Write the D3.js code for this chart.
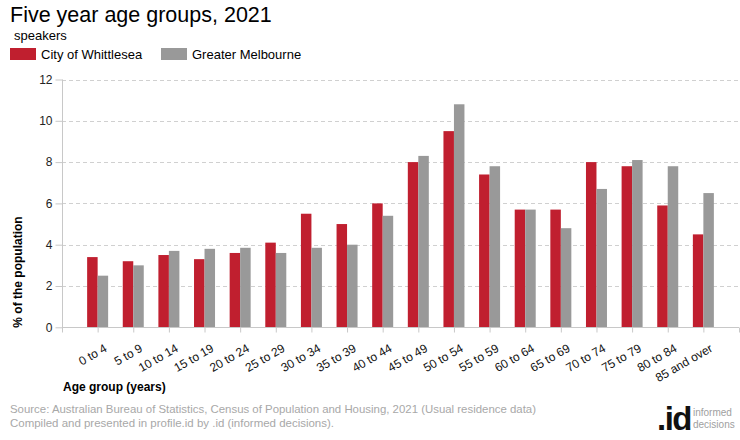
<!DOCTYPE html>
<html>
<head>
<meta charset="utf-8">
<script src="https://cdn.jsdelivr.net/npm/d3@7"></script>
<style>
  html, body { margin: 0; padding: 0; background: #fff; }
  svg { display: block; font-family: "Liberation Sans", Arial, sans-serif; }
</style>
</head>
<body>
<svg id="chart" width="740" height="440"></svg>
<script>
const categories = ["0 to 4","5 to 9","10 to 14","15 to 19","20 to 24","25 to 29","30 to 34","35 to 39","40 to 44","45 to 49","50 to 54","55 to 59","60 to 64","65 to 69","70 to 74","75 to 79","80 to 84","85 and over"];
const whittlesea = [3.4,3.2,3.5,3.3,3.6,4.1,5.5,5.0,6.0,8.0,9.5,7.4,5.7,5.7,8.0,7.8,5.9,4.5];
const melbourne  = [2.5,3.0,3.7,3.8,3.85,3.6,3.85,4.0,5.4,8.3,10.8,7.8,5.7,4.8,6.7,8.1,7.8,6.5];
const yTicks = [0,2,4,6,8,10,12];
const seriesNames = ["City of Whittlesea","Greater Melbourne"];
const colors = ["#c01f2f","#999999"];

const svg = d3.select("#chart");
const pL = 62, pR = 739, pT = 79.5, pB = 327.3;

const x = d3.scalePoint().domain(categories).range([pL, pR]).padding(1);
const y = d3.scaleLinear().domain([0, 12]).range([pB, pT]);

// Title
svg.append("text").attr("x", 10).attr("y", 22).attr("font-size", 21.5).attr("fill", "#000")
  .text("Five year age groups, 2021");
svg.append("text").attr("x", 14).attr("y", 40).attr("font-size", 13).attr("fill", "#000")
  .text("speakers");

// Legend
const legX = [10, 161];
seriesNames.forEach((n, i) => {
  svg.append("rect").attr("x", legX[i]).attr("y", 48).attr("width", 26).attr("height", 12).attr("fill", colors[i]);
  svg.append("text").attr("x", legX[i] + 31).attr("y", 59).attr("font-size", 13).attr("fill", "#000").text(n);
});

// Grid lines
svg.append("g").selectAll("line").data(yTicks.filter(d => d > 0)).join("line")
  .attr("x1", pL).attr("x2", pR)
  .attr("y1", d => Math.round(y(d)) + 0.5).attr("y2", d => Math.round(y(d)) + 0.5)
  .attr("stroke", "#d0d0d0").attr("stroke-dasharray", "4,3");

// Y axis
const yAxis = svg.append("g").attr("transform", `translate(${pL + 0.5},0)`)
  .call(d3.axisLeft(y).tickValues(yTicks).tickSize(7).tickPadding(3).tickFormat(d3.format("d")));
yAxis.select(".domain").attr("stroke", "#c8c8c8").attr("d", `M0,${pT}V${pB}`);
yAxis.selectAll(".tick line").attr("stroke", "#c8c8c8");
yAxis.selectAll(".tick text").attr("font-size", 12).attr("fill", "#222").attr("font-family", "Liberation Sans, Arial, sans-serif");

// Bars
const bw = 10.5;
const g = svg.append("g");
g.selectAll("rect.w").data(categories).join("rect").attr("class", "w")
  .attr("x", d => x(d) - bw).attr("width", bw)
  .attr("y", (d, i) => y(whittlesea[i])).attr("height", (d, i) => y(0) - y(whittlesea[i]))
  .attr("fill", colors[0]);
g.selectAll("rect.m").data(categories).join("rect").attr("class", "m")
  .attr("x", d => x(d)).attr("width", bw)
  .attr("y", (d, i) => y(melbourne[i])).attr("height", (d, i) => y(0) - y(melbourne[i]))
  .attr("fill", colors[1]);

// X axis
const xAxis = svg.append("g").attr("transform", `translate(0,${Math.round(pB) + 0.5})`)
  .call(d3.axisBottom(x).tickSize(5).tickPadding(6));
xAxis.select(".domain").attr("stroke", "#c8c8c8").attr("d", `M${pL},0H${pR}`);
xAxis.selectAll(".tick line").attr("stroke", "#c8c8c8");
xAxis.selectAll(".tick text")
  .attr("font-size", 12).attr("fill", "#111").attr("font-family", "Liberation Sans, Arial, sans-serif")
  .attr("text-anchor", "end").attr("dy", "0.35em")
  .attr("transform", "translate(2,10) rotate(-30)");
// end ticks
[pL, pR].forEach(px => {
  xAxis.append("line").attr("x1", px + 0.5).attr("x2", px + 0.5).attr("y1", 0).attr("y2", 5).attr("stroke", "#c8c8c8");
});

// Axis titles
svg.append("text").attr("transform", "translate(22,272) rotate(-90)").attr("text-anchor", "middle")
  .attr("font-size", 12).attr("font-weight", "bold").attr("fill", "#000").text("% of the population");
svg.append("text").attr("x", 63).attr("y", 391).attr("font-size", 12).attr("font-weight", "bold").attr("fill", "#000")
  .text("Age group (years)");

// Source
svg.append("text").attr("x", 10).attr("y", 413).attr("font-size", 11.5).attr("fill", "#a8a8a8")
  .attr("textLength", 526).attr("lengthAdjust", "spacingAndGlyphs")
  .text("Source: Australian Bureau of Statistics, Census of Population and Housing, 2021 (Usual residence data)");
svg.append("text").attr("x", 10).attr("y", 427).attr("font-size", 11.5).attr("fill", "#a8a8a8")
  .attr("textLength", 324).attr("lengthAdjust", "spacingAndGlyphs")
  .text("Compiled and presented in profile.id by .id (informed decisions).");

// Logo
svg.append("text").attr("x", 657).attr("y", 430).attr("font-size", 33).attr("font-weight", "bold")
  .attr("fill", "#111").attr("letter-spacing", "-1.5").text(".id");
svg.append("text").attr("x", 693).attr("y", 416).attr("font-size", 10).attr("fill", "#a0a0a0").text("informed");
svg.append("text").attr("x", 693).attr("y", 428).attr("font-size", 10).attr("fill", "#a0a0a0").text("decisions");
</script>
</body>
</html>
